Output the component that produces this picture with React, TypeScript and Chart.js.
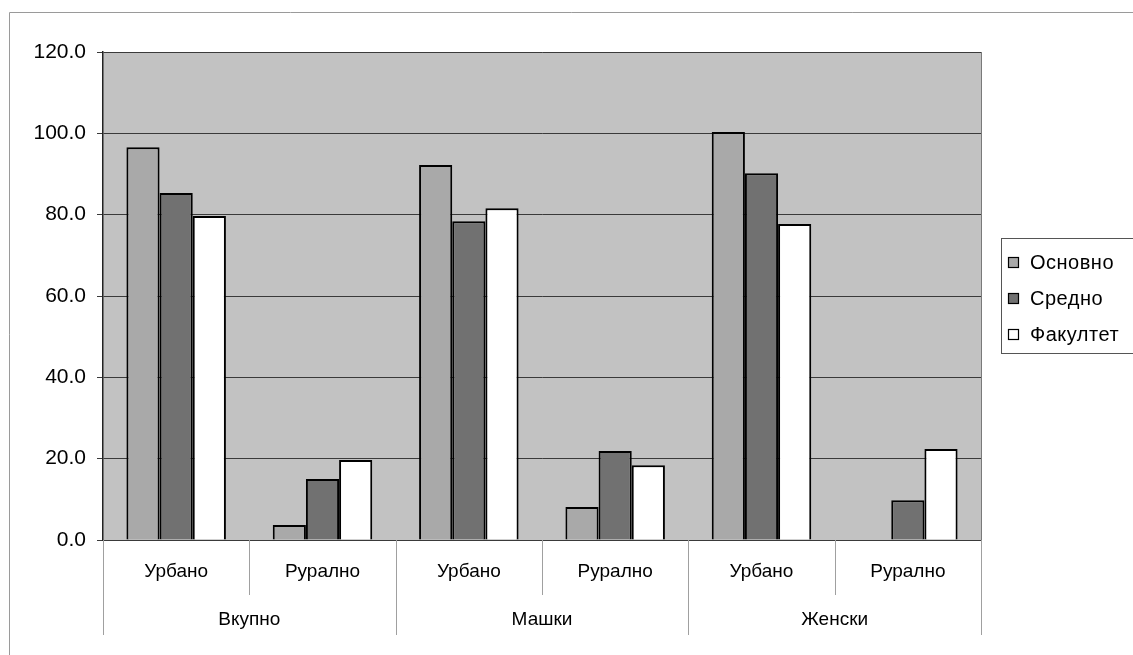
import React, { useEffect, useRef } from "react";
import { Chart, registerables } from "chart.js";

Chart.register(...registerables);

const subCategories = ["Урбано", "Рурално", "Урбано", "Рурално", "Урбано", "Рурално"];
const groups = ["Вкупно", "Машки", "Женски"];
const seriesNames = ["Основно", "Средно", "Факултет"];
const osnovno = [96.6, 3.7, 92.2, 8.1, 100.3, 0];
const sredno = [85.3, 15.0, 78.4, 21.9, 90.2, 9.8];
const fakultet = [79.7, 19.7, 81.6, 18.4, 77.7, 22.4];
const yTicks = [0, 20, 40, 60, 80, 100, 120];

const seriesColors = ["#a9a9a9", "#717171", "#ffffff"];
const FONT = "'Liberation Sans', Arial, sans-serif";

const decorPlugin = {
  id: "decor",
  beforeDraw(chart: any) {
    const { ctx, chartArea } = chart;
    ctx.save();
    ctx.fillStyle = "#c2c2c2";
    ctx.fillRect(chartArea.left, chartArea.top, chartArea.right - chartArea.left, chartArea.bottom - chartArea.top);
    ctx.restore();
  },
  afterDraw(chart: any) {
    const { ctx, chartArea } = chart;
    const x = chart.scales.x;
    const n = chart.data.labels.length;
    const step = (chartArea.right - chartArea.left) / n;
    ctx.save();
    // outer frame
    ctx.strokeStyle = "#9a9a9a";
    ctx.lineWidth = 1;
    ctx.beginPath();
    ctx.moveTo(9.5, 660);
    ctx.lineTo(9.5, 12.5);
    ctx.lineTo(1140, 12.5);
    ctx.stroke();
    // right border of plot
    ctx.strokeStyle = "#7a7a7a";
    ctx.beginPath();
    ctx.moveTo(Math.round(chartArea.right) + 0.5, chartArea.top);
    ctx.lineTo(Math.round(chartArea.right) + 0.5, chartArea.bottom);
    ctx.stroke();
    // category separators
    ctx.strokeStyle = "#a0a0a0";
    for (let i = 0; i <= n; i++) {
      const px = Math.round(chartArea.left + i * step) + 0.5;
      const isGroup = i % 2 === 0;
      ctx.beginPath();
      ctx.moveTo(px, chartArea.bottom);
      ctx.lineTo(px, chartArea.bottom + (isGroup ? 95 : 55));
      ctx.stroke();
    }
    // labels
    ctx.fillStyle = "#000";
    ctx.font = `19px ${FONT}`;
    ctx.textAlign = "center";
    ctx.textBaseline = "middle";
    chart.data.labels.forEach((lab: string, i: number) => {
      ctx.fillText(lab, x.getPixelForValue(i), chartArea.bottom + 32);
    });
    groups.forEach((g, gi) => {
      const cx = (x.getPixelForValue(gi * 2) + x.getPixelForValue(gi * 2 + 1)) / 2;
      ctx.fillText(g, cx, chartArea.bottom + 80);
    });
    // legend
    const lx = 1001.5;
    const ly = 238.5;
    ctx.strokeStyle = "#555";
    ctx.lineWidth = 1;
    ctx.strokeRect(lx, ly, 150, 115);
    ctx.textAlign = "left";
    ctx.font = `20px ${FONT}`;
    (ctx as any).letterSpacing = "0.5px";
    chart.data.datasets.forEach((ds: any, i: number) => {
      const cy = 262 + i * 36;
      ctx.fillStyle = ds.backgroundColor;
      ctx.fillRect(1008, cy - 5, 10, 10);
      ctx.strokeStyle = "#000";
      ctx.lineWidth = 1.2;
      ctx.strokeRect(1008.5, cy - 4.5, 10, 10);
      ctx.fillStyle = "#000";
      ctx.fillText(ds.label, 1030, cy + 1);
    });
    ctx.restore();
  },
};

export default function App() {
  const ref = useRef<HTMLCanvasElement>(null);
  useEffect(() => {
    if (!ref.current) return;
    const chart = new Chart(ref.current, {
      type: "bar",
      data: {
        labels: subCategories,
        datasets: [osnovno, sredno, fakultet].map((d, i) => ({
          label: seriesNames[i],
          data: d,
          backgroundColor: seriesColors[i],
          borderColor: "#000",
          borderWidth: 2,
          categoryPercentage: 0.68,
          barPercentage: 1.0,
        })),
      },
      options: {
        animation: false,
        responsive: false,
        layout: { padding: { top: 52, right: 152, left: 0, bottom: 0 } },
        plugins: { legend: { display: false }, tooltip: { enabled: false } },
        scales: {
          x: {
            ticks: { display: false },
            grid: { display: false },
            border: { display: false },
            afterFit: (s: any) => {
              s.height = 115;
            },
          },
          y: {
            min: 0,
            max: 120,
            afterBuildTicks: (s: any) => {
              s.ticks = yTicks.map((v) => ({ value: v }));
            },
            ticks: {
              callback: (v: any) => Number(v).toFixed(1),
              font: { size: 21, family: FONT },
              color: "#000",
              padding: 11,
            },
            grid: { color: "#3a3a3a", lineWidth: 1, tickLength: 6 },
            border: { display: true, color: "#222", width: 1.5 },
            afterFit: (s: any) => {
              s.width = 103;
            },
          },
        },
      },
      plugins: [decorPlugin],
    });
    return () => chart.destroy();
  }, []);
  return (
    <canvas
      ref={ref}
      width={1133}
      height={655}
      style={{ position: "fixed", left: 0, top: 0, width: 1133, height: 655, background: "#fff" }}
    />
  );
}
